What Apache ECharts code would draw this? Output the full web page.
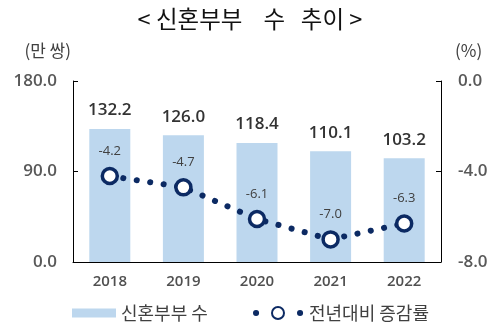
<!DOCTYPE html>
<html><head><meta charset="utf-8">
<script src="https://cdn.jsdelivr.net/npm/echarts@6/dist/echarts.min.js"></script>
<style>html,body{margin:0;padding:0;background:#fff}#c{width:500px;height:328px}</style>
</head><body><div id="c"></div>
<script>
const years = ['2018','2019','2020','2021','2022'];
const couples = [132.2, 126.0, 118.4, 110.1, 103.2];
const changeRate = [-4.2, -4.7, -6.1, -7.0, -6.3];
const leftTicks = {min:0, max:180, interval:90};
const rightTicks = {min:-8, max:0, interval:4};
const FONT = '"Noto Sans CJK KR", "Noto Sans", sans-serif';
const NUMFONT = '"Open Sans", "Noto Sans", sans-serif';
const navy = '#0c2a63';
const chart = echarts.init(document.getElementById('c'));
chart.setOption({
  animation:false,
  textStyle:{fontFamily:FONT},
  title:{text:'< 신혼부부    수   추이 >', left:'center', top:2,
    textStyle:{fontFamily:FONT, fontSize:23.5, fontWeight:'normal', color:'#111'}},
  grid:{left:73, right:59, top:81, bottom:66},
  legend:[
    {left:67, top:299, itemWidth:44, itemHeight:9, itemGap:0,
      textStyle:{fontFamily:FONT, fontSize:18, color:'#404040'},
      data:[{name:'신혼부부 수', icon:'rect'}]},
    {left:244, top:299, itemWidth:52, itemHeight:15, itemGap:0,
      textStyle:{fontFamily:FONT, fontSize:18, color:'#404040'},
      data:[{name:'전년대비 증감률',
        lineStyle:{type:[0.1,21.9], dashOffset:18, width:6, cap:'round', color:navy}}]}
  ],
  xAxis:{type:'category', data:years,
    axisLine:{lineStyle:{color:'#000', width:1}}, axisTick:{show:false},
    axisLabel:{margin:12, fontFamily:NUMFONT, fontSize:15, fontWeight:600, color:'#505050'}},
  yAxis:[
    {type:'value', min:leftTicks.min, max:leftTicks.max, interval:leftTicks.interval,
      name:'(만 쌍)', nameLocation:'end', nameGap:22,
      nameTextStyle:{fontFamily:FONT, fontSize:17, color:'#404040', align:'right', padding:[0,2,0,0]},
      axisLine:{show:true, lineStyle:{color:'#000'}},
      axisTick:{show:true, inside:true, length:5, lineStyle:{color:'#000'}},
      splitLine:{show:false},
      axisLabel:{margin:16, fontFamily:NUMFONT, fontSize:17, fontWeight:600, color:'#595959',
        formatter:v=>v.toFixed(1)}},
    {type:'value', min:rightTicks.min, max:rightTicks.max, interval:rightTicks.interval,
      name:'(%)', nameLocation:'end', nameGap:22,
      nameTextStyle:{fontFamily:FONT, fontSize:17, color:'#404040', align:'left', padding:[0,0,0,14]},
      axisLine:{show:true, lineStyle:{color:'#000'}},
      axisTick:{show:true, inside:true, length:5, lineStyle:{color:'#000'}},
      splitLine:{show:false},
      axisLabel:{margin:17, fontFamily:NUMFONT, fontSize:17, fontWeight:600, color:'#595959',
        formatter:v=>v.toFixed(1)}}
  ],
  series:[
    {name:'신혼부부 수', type:'bar', yAxisIndex:0, data:couples, barWidth:41,
      itemStyle:{color:'#bdd7ee'},
      label:{show:true, position:'top', distance:10, fontFamily:NUMFONT, fontSize:17, fontWeight:600, color:'#333',
        formatter:p=>p.value.toFixed(1)}},
    {name:'전년대비 증감률', type:'line', yAxisIndex:1, data:changeRate,
      symbol:'circle', symbolSize:15,
      itemStyle:{color:'#fff', borderColor:navy, borderWidth:3.5},
      lineStyle:{color:navy, width:6, type:[0.1,13.5], cap:'round'},
      label:{show:true, position:'top', distance:9, fontFamily:NUMFONT, fontSize:13, color:'#404040',
        formatter:p=>p.value.toFixed(1)}}
  ]
});
</script></body></html>
